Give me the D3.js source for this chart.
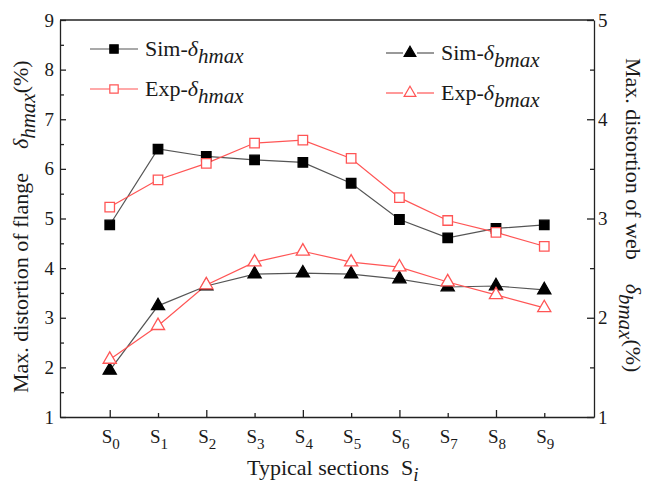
<!DOCTYPE html>
<html>
<head>
<meta charset="utf-8">
<script src="https://cdn.jsdelivr.net/npm/d3@7"></script>
<style>
  html, body { margin: 0; padding: 0; background: #fff; }
  svg { display: block; font-family: "Liberation Serif", "Times New Roman", serif; }
  .axis path, .axis line { stroke: #222; stroke-width: 1.3; }
  .axis text { font-family: "Liberation Serif", serif; font-size: 19px; fill: #1a1a1a; }
</style>
</head>
<body>
<svg id="chart" width="646" height="484"></svg>
<script>
// ─── Data ────────────────────────────────────────────────────────────────────
const sections = ['0','1','2','3','4','5','6','7','8','9'];
// flange distortion (left axis, %)
const simH = [4.87, 6.40, 6.25, 6.18, 6.13, 5.71, 4.98, 4.61, 4.80, 4.87];
const expH = [5.23, 5.78, 6.11, 6.52, 6.58, 6.21, 5.42, 4.96, 4.72, 4.44];
// web distortion (right axis, %)
const simB = [1.47, 2.12, 2.32, 2.44, 2.45, 2.44, 2.39, 2.31, 2.32, 2.28];
const expB = [1.58, 1.92, 2.33, 2.56, 2.67, 2.56, 2.51, 2.36, 2.23, 2.10];
const leftTicks  = [1, 2, 3, 4, 5, 6, 7, 8, 9];
const rightTicks = [1, 2, 3, 4, 5];

const svg = d3.select('#chart');
const margin = { top: 20, right: 52, bottom: 67, left: 60 };
const W = 646, H = 484;
const iw = W - margin.left - margin.right;
const ih = H - margin.top - margin.bottom;
const g = svg.append('g').attr('transform', `translate(${margin.left},${margin.top})`);

const x  = d3.scaleLinear().domain([-1.03, 10.03]).range([0, iw]);
const yL = d3.scaleLinear().domain([1, 9]).range([ih, 0]);
const yR = d3.scaleLinear().domain([1, 5]).range([ih, 0]);

const BLACK_LINE = '#555';
const RED = '#ff5555';

// ── Axes (ticks point inward) ─────────────────────────
const idx = d3.range(sections.length);
g.append('g').attr('class', 'axis')
  .attr('transform', `translate(0,${ih})`)
  .call(d3.axisBottom(x).tickValues(idx.filter(i => i % 2 === 0)).tickSize(-7).tickSizeOuter(0).tickFormat(''));
g.append('g').attr('class', 'axis')
  .attr('transform', `translate(0,${ih})`)
  .call(d3.axisBottom(x).tickValues(idx.filter(i => i % 2 === 1)).tickSize(-4).tickSizeOuter(0).tickFormat(''))
  .select('.domain').remove();

// S_i labels
g.append('g').selectAll('text.xlab').data(idx).join('text')
  .attr('class', 'xlab')
  .attr('x', d => x(d) + 1)
  .attr('y', ih + 26)
  .attr('text-anchor', 'middle')
  .attr('font-size', 19)
  .attr('fill', '#1a1a1a')
  .each(function(d) {
    const t = d3.select(this);
    t.append('tspan').text('S');
    t.append('tspan').attr('font-size', 15).attr('dy', 6).text(sections[d]);
  });

g.append('g').attr('class', 'axis')
  .call(d3.axisLeft(yL).tickValues(leftTicks).tickSize(-6).tickSizeOuter(0).tickPadding(6).tickFormat(d3.format('d')));
g.append('g').attr('class', 'axis')
  .call(d3.axisLeft(yL).tickValues(d3.range(1.5, 9, 1)).tickSize(-4).tickFormat(''))
  .select('.domain').remove();

g.append('g').attr('class', 'axis')
  .attr('transform', `translate(${iw},0)`)
  .call(d3.axisRight(yR).tickValues(rightTicks).tickSize(-7).tickSizeOuter(0).tickPadding(4).tickFormat(d3.format('d')));
g.append('g').attr('class', 'axis')
  .attr('transform', `translate(${iw},0)`)
  .call(d3.axisRight(yR).tickValues(d3.range(1.5, 5, 1)).tickSize(-4).tickFormat(''))
  .select('.domain').remove();

// top frame line
g.append('line')
  .attr('x1', x.range()[0]).attr('x2', x.range()[1])
  .attr('y1', 0).attr('y2', 0)
  .attr('stroke', '#222').attr('stroke-width', 1.3);

// ── Series ───────────────────────────────────────────
const series = [
  { vals: simH, y: yL, color: BLACK_LINE, mark: 'square', fill: '#000', stroke: '#000' },
  { vals: expH, y: yL, color: RED, mark: 'square', fill: '#fff', stroke: RED },
  { vals: simB, y: yR, color: BLACK_LINE, mark: 'triangle', fill: '#000', stroke: '#000' },
  { vals: expB, y: yR, color: RED, mark: 'triangle', fill: '#fff', stroke: RED }
];

const symFor = m => m === 'square'
  ? d3.symbol(d3.symbolSquare, 90)
  : d3.symbol(d3.symbolTriangle, 75);

for (const s of series) {
  const line = d3.line().x((_, i) => x(i)).y(d => s.y(d));
  g.append('path').datum(s.vals)
    .attr('d', line)
    .attr('fill', 'none')
    .attr('stroke', s.color)
    .attr('stroke-width', 1.2);
}
for (const s of series) {
  g.append('g').selectAll('path').data(s.vals).join('path')
    .attr('transform', (d, i) => `translate(${x(i)},${s.y(d)})`)
    .attr('d', symFor(s.mark)())
    .attr('fill', s.fill)
    .attr('stroke', s.stroke)
    .attr('stroke-width', 1.3);
}

// ── Legend ───────────────────────────────────────────
// left pair: continuous line; right pair: line broken around the marker
const legendItems = [
  { s: series[0], pre: 'Sim-', sub: 'hmax', lx: 90,  ly: 49, gap: 0 },
  { s: series[1], pre: 'Exp-', sub: 'hmax', lx: 90,  ly: 89, gap: 0 },
  { s: series[2], pre: 'Sim-', sub: 'bmax', lx: 386, ly: 53, gap: 7 },
  { s: series[3], pre: 'Exp-', sub: 'bmax', lx: 386, ly: 93, gap: 7 }
];
for (const it of legendItems) {
  const lg = svg.append('g').attr('transform', `translate(${it.lx},${it.ly})`);
  const segs = it.gap ? [[0, 24 - it.gap], [24 + it.gap, 48]] : [[0, 48]];
  for (const [a, b] of segs) {
    lg.append('line').attr('x1', a).attr('x2', b).attr('y1', 0).attr('y2', 0)
      .attr('stroke', it.s.color).attr('stroke-width', 1.2);
  }
  lg.append('path').attr('transform', 'translate(24,0)')
    .attr('d', (it.s.mark === 'square' ? d3.symbol(d3.symbolSquare, 70) : d3.symbol(d3.symbolTriangle, 60))())
    .attr('fill', it.s.fill).attr('stroke', it.s.stroke).attr('stroke-width', 1.2);
  const t = lg.append('text').attr('x', 55).attr('y', 7)
    .attr('font-size', 22).attr('fill', '#1a1a1a');
  t.append('tspan').text(it.pre);
  t.append('tspan').attr('font-style', 'italic').text('δ');
  t.append('tspan').attr('font-style', 'italic').attr('font-size', 21).attr('dy', 7).text(it.sub);
}

// ── Axis titles ──────────────────────────────────────
const lt = svg.append('text')
  .attr('transform', 'translate(28,393) rotate(-90)')
  .attr('font-size', 22).attr('fill', '#1a1a1a');
lt.append('tspan').text('Max. distortion of flange');
lt.append('tspan').attr('dx', 24).attr('font-style', 'italic').text('δ');
lt.append('tspan').attr('font-style', 'italic').attr('font-size', 21).attr('dy', 7).text('hmax');
lt.append('tspan').attr('dy', -7).text('(%)');

const rt = svg.append('text')
  .attr('transform', 'translate(626,58) rotate(90)')
  .attr('font-size', 22).attr('fill', '#1a1a1a');
rt.append('tspan').text('Max. distortion of web');
rt.append('tspan').attr('dx', 24).attr('font-style', 'italic').text('δ');
rt.append('tspan').attr('font-style', 'italic').attr('font-size', 21).attr('dy', 7).text('bmax');
rt.append('tspan').attr('dy', -7).text('(%)');

const bt = svg.append('text').attr('x', 247).attr('y', 475)
  .attr('font-size', 22).attr('fill', '#1a1a1a');
bt.append('tspan').text('Typical sections');
bt.append('tspan').attr('dx', 12).text('S');
bt.append('tspan').attr('font-style', 'italic').attr('font-size', 19).attr('dy', 6).text('i');
</script>
</body>
</html>
